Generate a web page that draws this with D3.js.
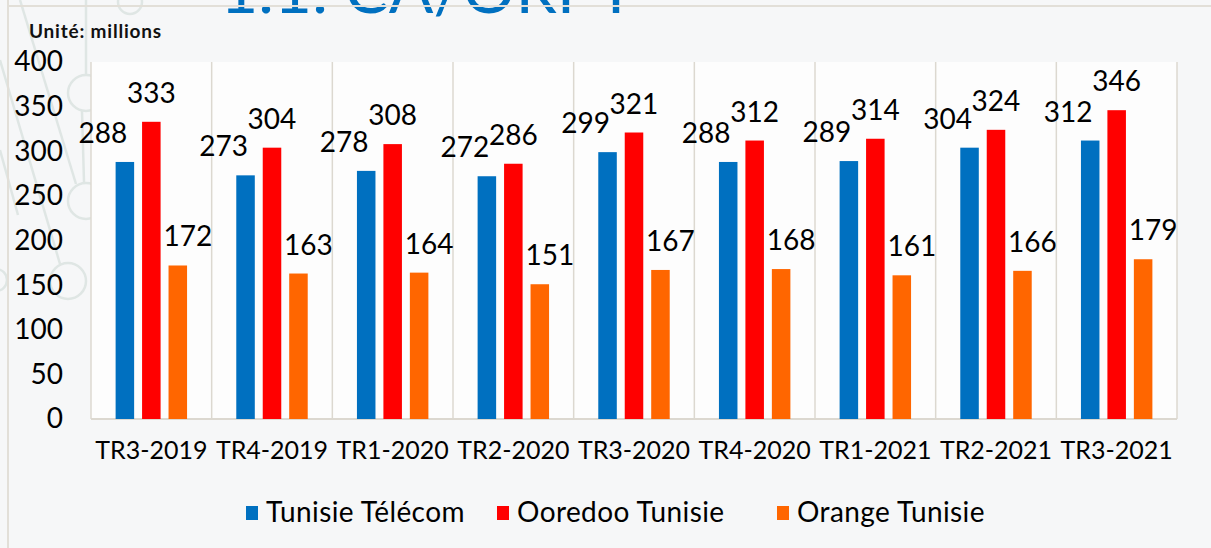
<!DOCTYPE html>
<html>
<head>
<meta charset="utf-8">
<script src="https://cdn.jsdelivr.net/npm/d3@7"></script>
<style>
  html, body { margin: 0; padding: 0; background: #f6f7f8; }
  svg { display: block; font-family: Lato, "Noto Sans", sans-serif; }
</style>
</head>
<body>
<div id="chart"></div>
<script>
// Chart data
const quarters = ['TR3-2019', 'TR4-2019', 'TR1-2020', 'TR2-2020', 'TR3-2020', 'TR4-2020', 'TR1-2021', 'TR2-2021', 'TR3-2021'];
const seriesNames = ['Tunisie Télécom', 'Ooredoo Tunisie', 'Orange Tunisie'];
const tunisieTelecom = [288, 273, 278, 272, 299, 288, 289, 304, 312];
const ooredoo = [333, 304, 308, 286, 321, 312, 314, 324, 346];
const orange = [172, 163, 164, 151, 167, 168, 161, 166, 179];
const yTicks = [0, 50, 100, 150, 200, 250, 300, 350, 400];
const seriesColors = ['#0070c0', '#ff0000', '#ff6600'];

const W = 1211, H = 548;
const plot = { left: 91, right: 1177, top: 62, bottom: 419 };

const svg = d3.select('#chart').append('svg')
    .attr('width', W)
    .attr('height', H);

// slide background + decoration
svg.append('rect').attr('width', W).attr('height', H).attr('fill', '#f6f7f8');

const deco = svg.append('g')
    .attr('fill', 'none')
    .attr('stroke', '#dfe6e4')
    .attr('stroke-width', 2.5);
deco.append('line').attr('x1', 86).attr('y1', 0).attr('x2', 86).attr('y2', 74);
deco.append('line').attr('x1', 82).attr('y1', 111).attr('x2', 84).attr('y2', 182);
deco.append('line').attr('x1', 20).attr('y1', 0).attr('x2', 76).attr('y2', 184);
deco.append('line').attr('x1', 0).attr('y1', 60).attr('x2', 60).attr('y2', 264);
deco.append('line').attr('x1', 0).attr('y1', 150).attr('x2', 18).attr('y2', 215);
deco.selectAll('circle')
    .data([[86, 93, 18], [86, 201, 18], [68, 281, 18], [-4, 280, 11], [130, 2, 12]])
    .enter().append('circle')
    .attr('cx', d => d[0]).attr('cy', d => d[1]).attr('r', d => d[2]);

// title (cut off at the top edge, as on the slide)
svg.append('text')
    .attr('x', 220)
    .attr('y', 13)
    .attr('font-size', '66px')
    .attr('fill', '#0070c0')
    .text('1.1. CA/ORPT');

// slide frame lines
svg.append('line').attr('x1', 8).attr('x2', 8).attr('y1', 0).attr('y2', H)
    .attr('stroke', '#e2dfd8').attr('stroke-width', 2);
svg.append('line').attr('x1', 8).attr('x2', W).attr('y1', 6).attr('y2', 6)
    .attr('stroke', '#e2dfd8').attr('stroke-width', 2);

svg.append('text')
    .attr('x', 29)
    .attr('y', 38)
    .attr('font-size', '19px')
    .attr('font-weight', 'bold')
    .attr('letter-spacing', '0.8px')
    .attr('fill', '#111')
    .text('Unité: millions');

// plot area
svg.append('rect')
    .attr('x', plot.left).attr('y', plot.top)
    .attr('width', plot.right - plot.left).attr('height', plot.bottom - plot.top)
    .attr('fill', '#fdfdfd');

const x = d3.scaleBand()
    .domain(quarters)
    .range([plot.left, plot.right])
    .padding(0);

const xInner = d3.scaleBand()
    .domain(seriesNames)
    .range([0, x.bandwidth()])
    .paddingInner(0.3)
    .paddingOuter(0.93);

const y = d3.scaleLinear()
    .domain([0, 400])
    .range([plot.bottom, plot.top]);

// category separators
svg.append('g')
    .selectAll('line')
    .data(quarters.concat(['end']))
    .enter().append('line')
    .attr('x1', (d, i) => plot.left + i * x.step())
    .attr('x2', (d, i) => plot.left + i * x.step())
    .attr('y1', plot.top)
    .attr('y2', plot.bottom)
    .attr('stroke', '#dcd8d0')
    .attr('stroke-width', 1.5);

svg.append('line')
    .attr('x1', plot.left).attr('x2', plot.right)
    .attr('y1', plot.bottom).attr('y2', plot.bottom)
    .attr('stroke', '#dcd8d0')
    .attr('stroke-width', 2);

// y axis labels
const yAxis = d3.axisLeft(y).tickValues(yTicks).tickSize(0).tickPadding(0);
const yG = svg.append('g')
    .attr('transform', `translate(63,0)`)
    .call(yAxis);
yG.select('.domain').remove();
yG.selectAll('text')
    .attr('font-size', '28px')
    .attr('font-family', 'Lato, "Noto Sans", sans-serif')
    .attr('fill', '#000');

// x axis labels
const xAxis = d3.axisBottom(x).tickSize(0).tickPadding(0);
const xG = svg.append('g')
    .attr('transform', `translate(0,441)`)
    .call(xAxis);
xG.select('.domain').remove();
xG.selectAll('text')
    .attr('font-size', '25px')
    .attr('font-family', 'Lato, "Noto Sans", sans-serif')
    .attr('fill', '#000');

// bars
const seriesValues = [tunisieTelecom, ooredoo, orange];
const labelShift = [-22, 0, 10];

const groups = svg.append('g').selectAll('g')
    .data(quarters)
    .enter().append('g')
    .attr('transform', d => `translate(${x(d)},0)`);

groups.selectAll('rect')
    .data((q, qi) => seriesNames.map((s, si) => ({ s, si, v: seriesValues[si][qi] })))
    .enter().append('rect')
    .attr('x', d => xInner(d.s))
    .attr('width', xInner.bandwidth())
    .attr('y', d => y(d.v))
    .attr('height', d => y(0) - y(d.v))
    .attr('fill', d => seriesColors[d.si]);

groups.selectAll('text')
    .data((q, qi) => seriesNames.map((s, si) => ({ s, si, v: seriesValues[si][qi] })))
    .enter().append('text')
    .attr('x', d => xInner(d.s) + xInner.bandwidth() / 2 + labelShift[d.si])
    .attr('y', d => y(d.v) - 19)
    .attr('text-anchor', 'middle')
    .attr('font-size', '28px')
    .attr('fill', '#000')
    .text(d => d.v);

// legend
const legendX = [246, 497, 777];
const legend = svg.append('g').selectAll('g')
    .data(seriesNames)
    .enter().append('g')
    .attr('transform', (d, i) => `translate(${legendX[i]},0)`);
legend.append('rect')
    .attr('x', 0).attr('y', 506)
    .attr('width', 12).attr('height', 14)
    .attr('fill', (d, i) => seriesColors[i]);
legend.append('text')
    .attr('x', 20).attr('y', 522)
    .attr('font-size', '28px')
    .attr('letter-spacing', '0.4px')
    .attr('fill', '#000')
    .text(d => d);
</script>
</body>
</html>
